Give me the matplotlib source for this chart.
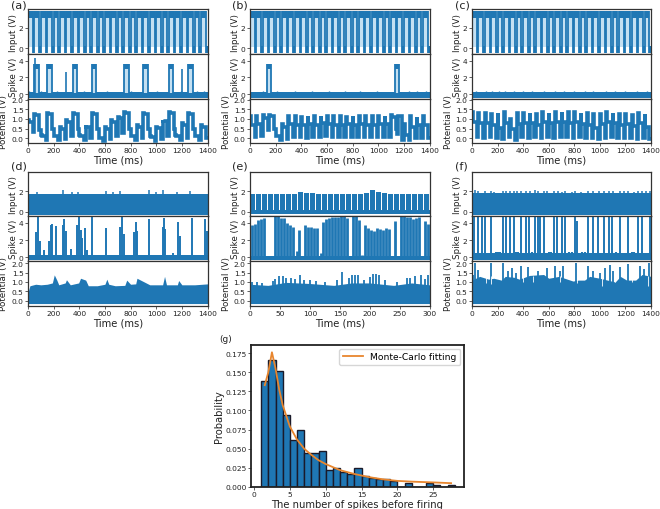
import matplotlib
matplotlib.use("Agg")
import matplotlib.pyplot as plt

W, H = 660, 510
BLUE = '#1f77b4'
PALE = '#c4e0f2'
EDGE = '#333333'

# ---- panels a-c : pulsed input ------------------------------------------
pulse_starts = [0, 50, 100, 150, 200, 250, 300, 350, 400, 450, 500, 550, 600, 650,
                700, 750, 800, 850, 900, 950, 1000, 1050, 1100, 1150, 1200, 1250, 1300, 1350]

a_spike_times = [50, 150, 350, 500, 750, 900, 1100, 1250]
a_spike_narrow_t = [52, 300, 1200]
a_spike_narrow_h = [4.3, 2.6, 3.0]
a_bumps_t = [10, 100, 230, 440, 620, 800, 1010, 1190, 1320, 1370]
a_peak = [0.95, 1.25, 0.15, 1.3, 0.15, 0.6, 0.95, 1.3, 0.15, 0.7, 1.3, 0.1, 0.6, 0.95,
          1.1, 1.35, 0.15, 0.7, 1.3, 0.1, 0.6, 0.95, 1.35, 0.15, 0.8, 1.3, 0.15, 0.7]
a_high = [0.85, 1.2, 0.1, 1.25, 0.1, 0.5, 0.85, 1.25, 0.1, 0.6, 1.25, 0.0, 0.5, 0.85,
          1.05, 1.3, 0.1, 0.6, 1.25, 0.05, 0.55, 0.9, 1.3, 0.1, 0.7, 1.25, 0.1, 0.6]
a_low = [0.3, 0.4, -0.1, 0.45, -0.1, -0.05, 0.1, 0.45, -0.1, 0.0, 0.45, -0.15, -0.05, 0.1,
         0.25, 0.5, -0.1, 0.0, 0.45, -0.15, -0.05, 0.1, 0.5, -0.1, 0.0, 0.45, -0.1, 0.0]

b_spike_times = [130, 1130]
b_bumps_t = [100, 210, 350, 480, 620, 740, 860, 990, 1240, 1300, 1370]
b_peak = [1.15, 1.15, 1.2, 1.2, 0.2, 0.75, 1.15, 1.15, 1.1, 1.15, 1.15, 1.15, 1.15, 1.15,
          1.15, 1.1, 1.15, 1.15, 1.15, 1.15, 1.15, 1.15, 1.2, 0.2, 0.75, 1.15, 1.1, 1.15]
b_high = [0.7, 0.75, 1.05, 1.15, 0.1, 0.6, 0.75, 0.7, 0.7, 0.75, 0.7, 0.8, 0.75, 0.7,
          0.7, 0.75, 0.7, 0.75, 0.7, 0.7, 0.75, 0.75, 1.1, 1.15, 0.15, 0.6, 0.7, 0.7]
b_low = [0.05, 0.1, 0.4, 0.45, -0.1, -0.05, 0.05, 0.05, 0.0, 0.05, 0.05, 0.1, 0.05, 0.05,
         0.05, 0.05, 0.05, 0.05, 0.05, 0.05, 0.05, 0.05, 0.45, -0.1, -0.1, 0.0, 0.0, 0.0]

c_bumps_t = [30, 110, 160, 210, 260, 330, 400, 470, 560, 650, 720, 800, 880, 950, 1050, 1120, 1200, 1290, 1370]
c_peak = [1.35, 1.3, 1.3, 1.25, 1.3, 1.35, 1.0, 1.3, 1.3, 1.3, 1.25, 1.35, 1.3, 1.35,
          1.35, 1.35, 1.35, 1.3, 1.3, 1.25, 1.25, 1.35, 1.3, 1.25, 1.25, 1.2, 1.3, 1.25]
c_high = [0.85, 0.8, 0.8, 0.7, 0.55, 0.8, 0.45, 0.75, 0.8, 0.8, 0.7, 0.85, 0.8, 0.85,
          0.85, 0.8, 0.85, 0.75, 0.7, 0.55, 0.75, 0.85, 0.8, 0.7, 0.75, 0.65, 0.8, 0.6]
c_low = [0.05, 0.0, 0.05, 0.0, -0.05, 0.05, -0.1, 0.05, 0.0, 0.05, 0.0, 0.05, 0.0, 0.05,
         0.05, 0.0, 0.05, 0.0, 0.0, -0.05, 0.0, 0.05, 0.0, 0.0, 0.0, -0.05, 0.0, -0.05]

# ---- panel d ------------------------------------------------------------
d_in_t = [70, 275, 340, 390, 605, 665, 720, 945, 1000, 1050, 1160, 1265]
d_in_h = [1.9, 2.15, 1.9, 1.88, 2.05, 1.9, 2.05, 2.1, 1.88, 2.1, 1.9, 2.05]
d_sp_t = [65, 75, 96, 125, 165, 177, 190, 216, 274, 284, 297, 336, 386, 396, 412, 425, 448, 461,
          500, 607, 717, 730, 745, 829, 839, 850, 944, 1050, 1058, 1071, 1131, 1168, 1189, 1277, 1384, 1395]
d_sp_h = [2.9, 4.7, 1.9, 0.8, 1.9, 3.8, 3.9, 3.6, 3.8, 4.4, 3.0, 1.0, 3.8, 4.7, 3.2, 2.2, 3.4, 0.8,
          4.7, 3.4, 3.5, 4.7, 2.7, 2.9, 4.1, 3.0, 4.4, 3.5, 4.6, 3.3, 0.5, 4.1, 2.5, 4.6, 4.5, 3.0]
d_env_t = [0, 15, 60, 100, 150, 190, 205, 225, 240, 290, 300, 330, 395, 410, 450, 470, 540, 600, 615, 630,
           680, 755, 770, 800, 840, 850, 950, 1050, 1065, 1080, 1165, 1175, 1200, 1300, 1400]
d_env_y = [0.45, 0.8, 0.88, 0.85, 0.88, 0.95, 1.38, 1.1, 0.85, 0.95, 1.12, 0.85, 0.95, 1.2, 1.1, 0.8, 0.8, 0.88, 1.15, 0.88,
           0.8, 0.82, 1.1, 0.88, 0.9, 1.2, 0.85, 0.85, 1.3, 0.85, 0.85, 1.08, 0.85, 0.85, 0.9]

# ---- panel e ------------------------------------------------------------
e_in_t = [0, 10, 20, 30, 40, 50, 60, 70, 80, 90, 100, 110, 120, 130, 140, 150, 160, 170, 180, 190,
          200, 210, 220, 230, 240, 250, 260, 270, 280, 290]
e_in_h = [1.75, 1.75, 1.75, 1.75, 1.75, 1.75, 1.75, 1.75, 1.95, 1.85, 1.8, 1.75, 1.75, 1.75, 1.75, 1.75, 1.75, 1.75, 1.75, 1.8,
          2.1, 1.95, 1.8, 1.75, 1.75, 1.75, 1.75, 1.75, 1.75, 1.75]
e_sp_t = [3, 8, 13, 18, 23, 42, 47, 52, 57, 62, 67, 72, 78, 82, 92, 97, 102, 107, 112, 118, 122, 127, 132, 137, 142,
          147, 152, 157, 162, 172, 177, 182, 187, 192, 197, 202, 207, 212, 217, 222, 227, 232, 242, 252, 257, 262, 267,
          272, 277, 282, 292, 297]
e_sp_h = [3.7, 3.9, 4.3, 4.5, 4.6, 4.8, 4.8, 4.6, 4.6, 4.0, 3.8, 3.5, 0.7, 3.2, 3.8, 3.5, 3.5, 3.4, 3.4, 0.5, 4.1, 4.4, 4.6, 4.7, 4.7,
          4.7, 4.8, 4.8, 4.6, 4.8, 4.8, 4.3, 0.3, 3.7, 3.4, 3.2, 3.0, 3.4, 3.3, 3.2, 3.4, 3.3, 4.2, 4.8, 4.8, 4.7, 4.7,
          4.5, 4.6, 4.7, 4.2, 3.9]
e_env_t = [0, 30, 60, 100, 140, 170, 200, 240, 270, 300]
e_env_y = [0.88, 0.82, 0.98, 0.92, 0.82, 0.95, 0.95, 0.82, 0.95, 0.85]
e_pk_t = [3, 12, 20, 38, 42, 48, 55, 60, 68, 75, 83, 90, 100, 110, 125, 145, 153, 165, 170, 175, 180, 190, 200, 205, 210,
          215, 225, 245, 262, 268, 275, 285, 292, 297]
e_pk_h = [1.0, 1.0, 0.95, 1.05, 1.15, 1.3, 1.3, 1.2, 1.2, 1.15, 1.4, 1.1, 1.1, 1.05, 1.0, 1.1, 1.55, 1.2, 1.35, 1.35, 1.35, 1.1, 1.25, 1.45, 1.45,
          1.35, 1.1, 1.0, 1.2, 1.2, 1.3, 1.35, 1.15, 1.4]

# ---- panel f ------------------------------------------------------------
f_in_t = [20, 50, 105, 150, 175, 240, 265, 300, 330, 355, 380, 425, 450, 490, 520, 560, 590, 640, 670, 700, 730,
          780, 805, 850, 905, 945, 990, 1035, 1075, 1100, 1160, 1190, 1220, 1265, 1300, 1330, 1360, 1390]
f_in_h = [2.15, 2.0, 2.0, 2.05, 1.95, 2.05, 2.0, 2.05, 2.0, 2.05, 2.05, 2.05, 2.0, 2.1, 2.05, 2.05, 2.0, 2.0, 2.05, 1.95, 2.05,
          1.95, 2.05, 1.95, 2.0, 2.05, 2.0, 2.05, 2.0, 2.05, 2.0, 2.0, 2.05, 1.95, 2.05, 2.0, 2.0, 2.05]
f_sp_t = [15, 45, 80, 105, 150, 240, 265, 295, 325, 380, 420, 445, 490, 515, 535, 565, 640, 665, 700, 725, 805, 825,
          905, 945, 985, 1035, 1075, 1095, 1160, 1220, 1300, 1330, 1390]
f_sp_h = [4.8, 4.8, 4.8, 4.8, 4.8, 4.8, 4.8, 4.8, 4.8, 4.8, 4.8, 4.8, 4.8, 4.8, 4.8, 4.8, 4.8, 4.8, 4.8, 4.8, 4.8, 4.2,
          4.8, 4.8, 4.8, 4.8, 4.8, 4.8, 4.8, 4.8, 4.8, 4.8, 4.8]
f_bump_t = [190, 205, 220, 345, 360, 470, 600, 615, 760, 780, 860, 880, 1130, 1250, 1270]
f_env_t = [0, 60, 130, 170, 230, 260, 330, 370, 450, 560, 600, 680, 790, 830, 880, 920, 1000, 1120, 1160, 1210, 1280, 1330, 1400]
f_env_y = [1.1, 1.3, 1.15, 1.2, 1.1, 1.3, 1.25, 1.15, 1.35, 1.4, 1.2, 1.3, 1.05, 1.1, 1.1, 1.3, 1.2, 1.0, 1.3, 1.1, 1.1, 1.4, 1.3]
f_pk_t = [10, 23, 50, 148, 245, 284, 310, 345, 382, 435, 518, 583, 648, 687, 713, 810, 909, 948, 1000, 1039, 1078, 1104, 1156, 1221, 1312, 1343, 1385]
f_pk_h = [1.4, 2.0, 1.65, 2.0, 2.0, 1.6, 1.75, 1.5, 1.85, 1.8, 1.6, 1.75, 1.85, 1.6, 1.85, 2.0, 1.85, 1.6, 1.5, 1.75, 1.9, 1.6, 1.8, 1.95, 1.85, 1.7, 2.0]
f_notch_t = [110, 150, 400, 480, 690, 820, 1020, 1120, 1250, 1380]
f_notch_h = [0.95, 0.9, 1.0, 1.0, 1.0, 0.95, 0.8, 1.0, 1.0, 0.8]

# ---- panel g ------------------------------------------------------------
bin_left = [1, 2, 3, 4, 5, 6, 7, 8, 9, 10, 11, 12, 13, 14, 15, 16, 17, 18, 19, 20, 21, 22, 23, 24, 25, 26, 27]
bin_prob = [0.139, 0.166, 0.151, 0.094, 0.062, 0.074, 0.045, 0.045, 0.047, 0.022, 0.025, 0.020, 0.017, 0.025,
            0.015, 0.012, 0.010, 0.010, 0.008, 0.0, 0.005, 0.0, 0.0, 0.005, 0.003, 0.0, 0.003]
fit_x = [1.5, 2, 2.5, 3, 3.5, 4, 5, 6, 7, 8, 9, 10, 12, 14, 16, 18, 20, 22, 25, 27.5]
fit_y = [0.133, 0.150, 0.176, 0.155, 0.128, 0.107, 0.079, 0.062, 0.050, 0.042, 0.035, 0.030,
         0.022, 0.017, 0.013, 0.010, 0.008, 0.007, 0.006, 0.005]

fig = plt.figure(figsize=(W / 100, H / 100), dpi=100)
plt.rcParams['font.family'] = 'DejaVu Sans'


def px_axes(l, t, r, b):
    return fig.add_axes([l / W, 1 - b / H, (r - l) / W, (b - t) / H])


def style(ax, xlim, ylim, yticks, ylabel, label_dx, show_x, xticks=None):
    ax.set_xlim(*xlim)
    ax.set_ylim(*ylim)
    ax.set_yticks(yticks)
    ax.tick_params(labelsize=5.4, length=2, width=0.5, pad=1.2, colors='#222222')
    if show_x:
        ax.set_xticks(xticks)
        ax.set_xlabel('Time (ms)', fontsize=7.2, labelpad=1.0, color='#222222')
    else:
        ax.set_xticks([])
    ax.set_ylabel(ylabel, fontsize=6.3, color='#222222')
    ax.yaxis.set_label_coords(label_dx, 0.5)
    for s in ax.spines.values():
        s.set_linewidth(0.9)
        s.set_color(EDGE)


def pulse_input(ax, starts):
    wid = 37
    gap = 13
    ax.bar(starts, [3.0] * len(starts), width=wid, bottom=0.1, align='edge', color=PALE, lw=0)
    ax.bar(starts, [0.65] * len(starts), width=wid, bottom=3.0, align='edge', color=BLUE, lw=0)
    ax.bar([s + wid for s in starts], [0.7] * len(starts), width=gap, bottom=-0.45, align='edge', color=BLUE, lw=0)
    ax.vlines(starts, -0.45, 3.65, color=BLUE, lw=1.3)
    ax.vlines([s + wid for s in starts], -0.45, 3.65, color=BLUE, lw=1.3)


def spike_base(ax, bumps):
    ax.fill_between([0, 1400], -0.5, 0.22, color=BLUE, lw=0)
    ax.vlines(bumps, 0, 0.35, color=BLUE, lw=1.0)


def spike_pulses(ax, times):
    wid = 34
    ax.bar(times, [2.9] * len(times), width=wid, bottom=0.1, align='edge', color=PALE, lw=0)
    ax.bar(times, [0.55] * len(times), width=wid, bottom=3.05, align='edge', color=BLUE, lw=0)
    ax.vlines(times, -0.3, 3.6, color=BLUE, lw=1.3)
    ax.vlines([t + wid for t in times], -0.3, 3.6, color=BLUE, lw=1.3)


def potential(ax, starts, peak, high, low):
    xs, ys = [], []
    for s, p, h, l in zip(starts, peak, high, low):
        xs += [s, s + 6, s + 6, s + 37, s + 37, s + 50]
        ys += [p, p, h, h, l, l]
    ax.plot(xs, ys, color=BLUE, lw=2.6, solid_joinstyle='miter')


XT = [0, 200, 400, 600, 800, 1000, 1200, 1400]
XL = (0, 1400)
LBL_IN = -10.0
LBL_POT = -19.5

top_rows = [(28, 207.5, '(a)', 11), (250, 429.5, '(b)', 232), (472, 651, '(c)', 455)]
top_data = [
    (a_spike_times, a_bumps_t, a_peak, a_high, a_low),
    (b_spike_times, b_bumps_t, b_peak, b_high, b_low),
    ([], c_bumps_t, c_peak, c_high, c_low),
]
for (l, r, tag, tx), (spk, bmp, pk, hi, lo) in zip(top_rows, top_data):
    ax1 = px_axes(l, 10, r, 55)
    ax2 = px_axes(l, 55, r, 100)
    ax3 = px_axes(l, 100, r, 144)
    pulse_input(ax1, pulse_starts)
    spike_base(ax2, bmp)
    if spk:
        spike_pulses(ax2, spk)
    if tag == '(a)':
        ax2.vlines(a_spike_narrow_t, 0, a_spike_narrow_h, color=BLUE, lw=1.2)
    potential(ax3, pulse_starts, pk, hi, lo)
    style(ax1, XL, (-0.56, 3.87), [0, 2], 'Input (V)', LBL_IN / (r - l), False)
    style(ax2, XL, (-0.6, 4.8), [0, 2, 4], 'Spike (V)', LBL_IN / (r - l), False)
    style(ax3, XL, (-0.26, 2.05), [0, 0.5, 1.0, 1.5, 2.0], 'Potential (V)', LBL_POT / (r - l), True, XT)
    fig.text(tx / W, 1 - 5 / H, tag, fontsize=8, va='center', color='#222222')

# panel d
l, r = 28, 207.5
ax1, ax2, ax3 = px_axes(l, 173, r, 217), px_axes(l, 217, r, 262), px_axes(l, 262, r, 307)
ax1.fill_between(XL, -0.3, 1.75, color=BLUE, lw=0)
ax1.vlines(d_in_t, 1.5, d_in_h, color=BLUE, lw=1.1)
ax2.fill_between(XL, -0.3, 0.28, color=BLUE, lw=0)
ax2.vlines(d_sp_t, 0, d_sp_h, color=BLUE, lw=1.4)
ax3.fill_between(d_env_t, -0.15, d_env_y, color=BLUE, lw=0)
style(ax1, XL, (-0.42, 3.85), [0, 2], 'Input (V)', LBL_IN / (r - l), False)
style(ax2, XL, (-0.43, 4.8), [0, 2, 4], 'Spike (V)', LBL_IN / (r - l), False)
style(ax3, XL, (-0.28, 2.12), [0, 0.5, 1.0, 1.5, 2.0], 'Potential (V)', LBL_POT / (r - l), True, XT)
fig.text(11 / W, 1 - 167 / H, '(d)', fontsize=8, va='center', color='#222222')

# panel e
l, r = 250, 429.5
ax1, ax2, ax3 = px_axes(l, 173, r, 217), px_axes(l, 217, r, 262), px_axes(l, 262, r, 307)
ax1.bar(e_in_t, [h + 0.25 for h in e_in_h], width=8.6, bottom=-0.25, align='edge', color=BLUE, lw=0)
ax1.fill_between((0, 300), -0.25, 0.15, color=BLUE, lw=0)
ax2.fill_between((0, 300), -0.3, 0.12, color=BLUE, lw=0)
ax2.vlines(e_sp_t, 0, e_sp_h, color=BLUE, lw=2.0)
ax3.fill_between(e_env_t, -0.15, e_env_y, color=BLUE, lw=0)
ax3.vlines(e_pk_t, 0.5, e_pk_h, color=BLUE, lw=1.3)
style(ax1, (0, 300), (-0.42, 3.85), [0, 2], 'Input (V)', LBL_IN / (r - l), False)
style(ax2, (0, 300), (-0.43, 4.8), [0, 2, 4], 'Spike (V)', LBL_IN / (r - l), False)
style(ax3, (0, 300), (-0.28, 2.12), [0, 0.5, 1.0, 1.5, 2.0], 'Potential (V)', LBL_POT / (r - l), True,
      [0, 50, 100, 150, 200, 250, 300])
fig.text(232 / W, 1 - 167 / H, '(e)', fontsize=8, va='center', color='#222222')

# panel f
l, r = 472, 651
ax1, ax2, ax3 = px_axes(l, 173, r, 217), px_axes(l, 217, r, 262), px_axes(l, 262, r, 307)
ax1.fill_between(XL, -0.3, 1.8, color=BLUE, lw=0)
ax1.vlines(f_in_t, 1.5, f_in_h, color=BLUE, lw=1.1)
ax2.fill_between(XL, -0.3, 0.45, color=BLUE, lw=0)
ax2.vlines(f_bump_t, 0, 0.65, color=BLUE, lw=1.5)
ax2.vlines(f_sp_t, 0, f_sp_h, color=BLUE, lw=1.4)
ax3.fill_between(f_env_t, -0.15, f_env_y, color=BLUE, lw=0)
ax3.vlines(f_pk_t, 0.8, f_pk_h, color=BLUE, lw=1.3)
ax3.vlines(f_notch_t, f_notch_h, 1.3, color='white', lw=0.6)
style(ax1, XL, (-0.42, 3.85), [0, 2], 'Input (V)', LBL_IN / (r - l), False)
style(ax2, XL, (-0.43, 4.8), [0, 2, 4], 'Spike (V)', LBL_IN / (r - l), False)
style(ax3, XL, (-0.28, 2.12), [0, 0.5, 1.0, 1.5, 2.0], 'Potential (V)', LBL_POT / (r - l), True, XT)
fig.text(455 / W, 1 - 167 / H, '(f)', fontsize=8, va='center', color='#222222')

# panel g
ax = px_axes(251, 346, 464, 488)
ax.bar(bin_left, bin_prob, width=1.0, align='edge', color=BLUE, edgecolor='#1a1a2a', lw=1.0)
ax.plot(fit_x, fit_y, color='#e8862e', lw=1.3, label='Monte-Carlo fitting')
ax.set_xlim(-0.42, 29.3)
ax.set_ylim(0, 0.1855)
ax.set_xticks([0, 5, 10, 15, 20, 25])
ax.set_yticks([0, 0.025, 0.05, 0.075, 0.1, 0.125, 0.15, 0.175])
ax.set_yticklabels(['0.000', '0.025', '0.050', '0.075', '0.100', '0.125', '0.150', '0.175'])
ax.tick_params(labelsize=5.4, length=2, width=0.5, pad=1.2, colors='#222222')
ax.set_xlabel('The number of spikes before firing', fontsize=7.2, labelpad=0.8, color='#222222')
ax.set_ylabel('Probability', fontsize=7.2, labelpad=0.5, color='#222222')
for s in ax.spines.values():
    s.set_linewidth(1.3)
    s.set_color('#222222')
ax.legend(loc='upper right', fontsize=6.6, borderaxespad=0.4, handlelength=2.2)
fig.text(219 / W, 1 - 340 / H, '(g)', fontsize=6.5, va='center', color='#222222')

fig.savefig('out.png', dpi=100)
